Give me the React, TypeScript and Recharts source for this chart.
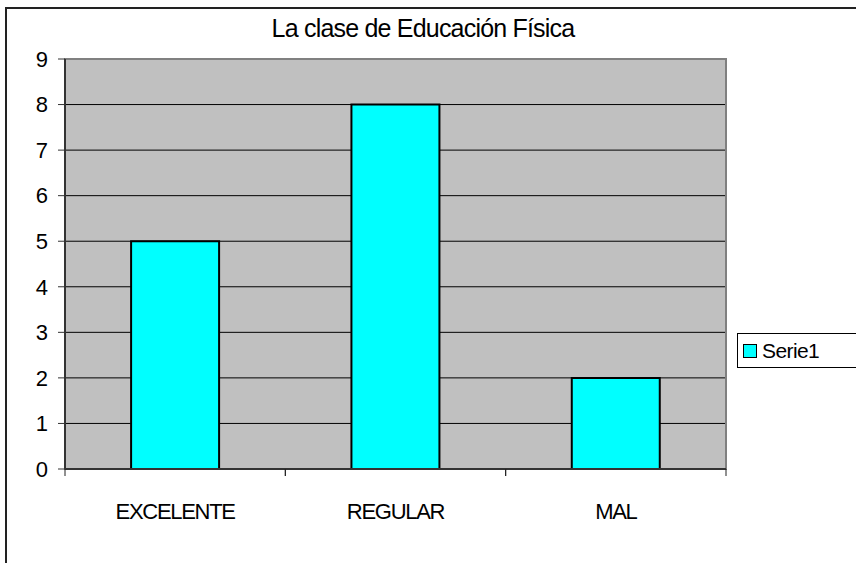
import { BarChart, Bar, XAxis, YAxis, CartesianGrid, ReferenceArea } from "recharts";

const CATEGORIES = ["EXCELENTE", "REGULAR", "MAL"];
const SERIE1 = [5, 8, 2];
const Y_TICKS = [0, 1, 2, 3, 4, 5, 6, 7, 8, 9];

const FONT = "'Liberation Sans', Arial, sans-serif";
const W = 856;
const H = 563;
const M = { top: 59, right: 130, bottom: 64, left: 5 };
const Y_W = 60;
const PLOT_W = W - M.left - M.right - Y_W;

const data = CATEGORIES.map((name, i) => ({ name, Serie1: SERIE1[i] }));

function CatTick(props: any) {
  const { x, y, payload } = props;
  const half = PLOT_W / CATEGORIES.length / 2;
  return (
    <g>
      <line x1={x - half} x2={x - half} y1={y} y2={y + 7} stroke="#222" />
      <line x1={x + half} x2={x + half} y1={y} y2={y + 7} stroke="#222" />
      <text x={x} y={y + 50} textAnchor="middle" fill="#000"
        style={{ fontFamily: FONT, fontSize: 22, letterSpacing: -1.3 }}>
        {payload.value}
      </text>
    </g>
  );
}

function LegendBox() {
  return (
    <div style={{
      position: "absolute", left: 737, top: 333, width: 140, height: 35, boxSizing: "border-box",
      display: "flex", alignItems: "center", gap: 5, border: "1px solid #000",
      background: "#fff", paddingLeft: 5, fontFamily: FONT, fontSize: 21,
      letterSpacing: -0.6, color: "#000",
    }}>
      <span style={{ width: 12, height: 12, background: "#00ffff", border: "1.5px solid #000", display: "inline-block" }} />
      <span>Serie1</span>
    </div>
  );
}

export default function App() {
  return (
    <div style={{ position: "absolute", left: 0, top: 0, width: W, height: H, overflow: "hidden", background: "#fff" }}>
      <div style={{ position: "absolute", left: 5, top: 7, width: 880, height: 600, border: "2px solid #222" }} />
      <div style={{
        position: "absolute", left: 0, width: W - 10, top: 14, textAlign: "center",
        fontFamily: FONT, fontSize: 25, letterSpacing: -0.8, color: "#000",
      }}>
        La clase de Educación Física
      </div>
      <div style={{ position: "absolute", left: 0, top: 0 }}>
        <BarChart width={W} height={H} data={data} margin={M} barCategoryGap="30%">
          <CartesianGrid vertical={false} stroke="#000" fill="#c0c0c0" fillOpacity={1} />
          <ReferenceArea y1={0} y2={9} fill="none" stroke="#808080" strokeWidth={2} ifOverflow="visible" />
          <XAxis dataKey="name" height={30} axisLine={{ stroke: "#333", strokeWidth: 2 }}
            tickLine={false} tickSize={0} tickMargin={0} interval={0} tick={<CatTick />} />
          <YAxis width={Y_W} domain={[0, 9]} ticks={Y_TICKS} interval={0}
            axisLine={{ stroke: "#333", strokeWidth: 2 }} tickLine={{ stroke: "#333" }} tickSize={7}
            tickMargin={10} tick={{ fill: "#000", fontSize: 22, fontFamily: FONT }} />
          <Bar dataKey="Serie1" fill="#00ffff" stroke="#000" strokeWidth={2} isAnimationActive={false} />
        </BarChart>
      </div>
      <LegendBox />
    </div>
  );
}
